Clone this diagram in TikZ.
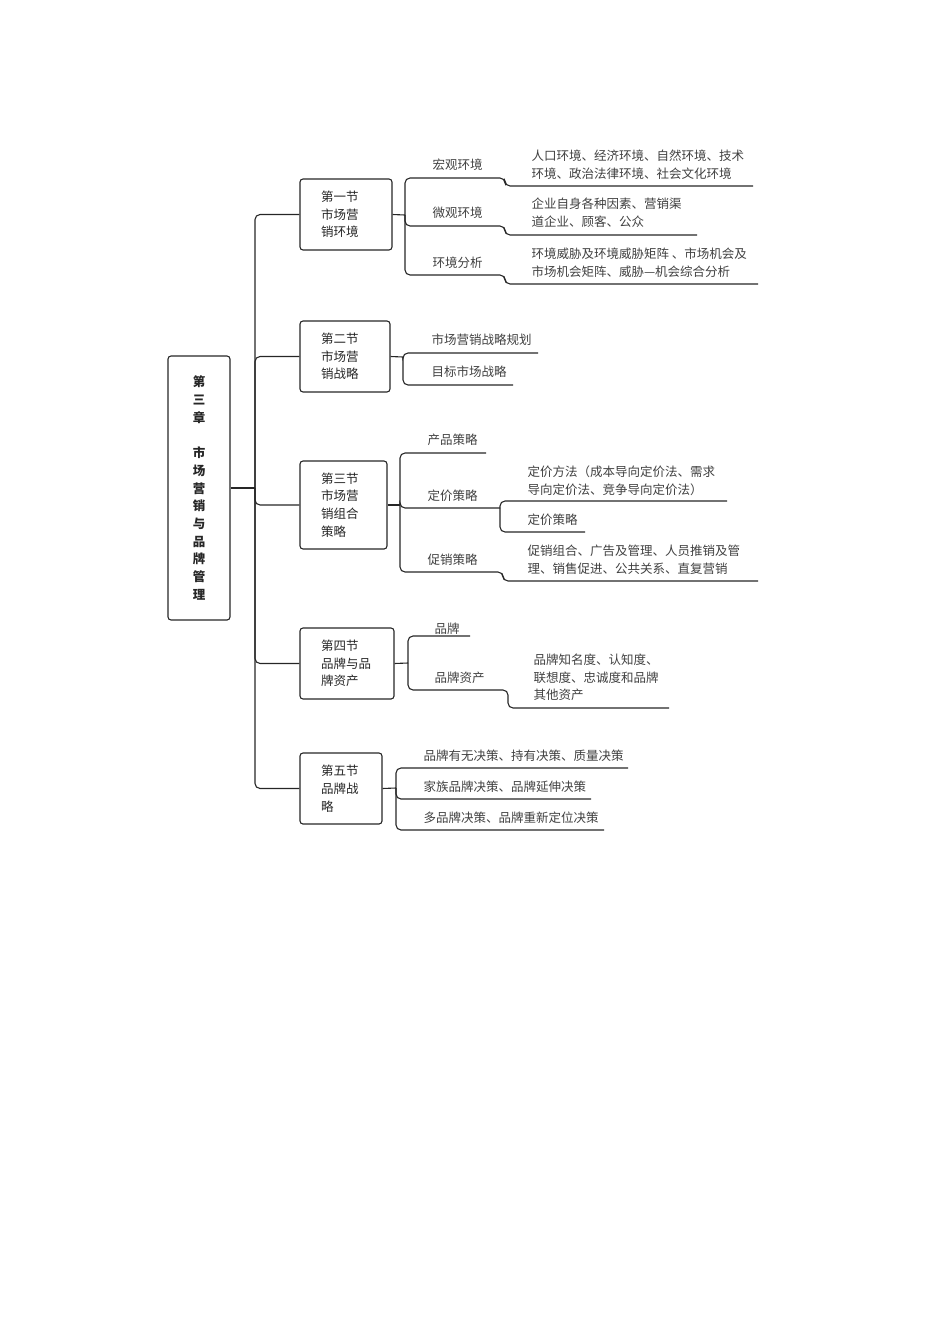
\documentclass[tikz,border=0pt]{standalone}
\usepackage{fontspec}
\setmainfont{Noto Sans CJK SC}
\usetikzlibrary{positioning}

\begin{document}
\begin{tikzpicture}[x=1pt, y=-1pt, line width=1.1pt, color=black!85,
    sec/.style={draw, rounded corners=3pt, align=left, inner xsep=0pt, font=\fontsize{12.5}{17.7}\selectfont},
    lbl/.style={anchor=west, inner sep=0pt, align=left, text=black!75, font=\fontsize{12.5}{17.7}\selectfont},
    wire/.style={rounded corners=5pt}]
    \useasboundingbox (0,0) rectangle (950,1344);
    % Root
    \node[draw, rounded corners=3pt, minimum width=62pt, minimum height=264pt, align=center,
      font=\bfseries\fontsize{12.5}{17.7}\selectfont] (Root) at (199,488)
      {第\\三\\章\\ \\市\\场\\营\\销\\与\\品\\牌\\管\\理};
    % Sections
    \node[sec, minimum width=92pt, minimum height=71pt, text width=50pt] (Sec1) at (346,214.5) {第一节\\市场营\\销环境};
    \node[sec, minimum width=90pt, minimum height=71pt, text width=48pt] (Sec2) at (345,356.5) {第二节\\市场营\\销战略};
    \node[sec, minimum width=87pt, minimum height=88pt, text width=45pt] (Sec3) at (343.5,505) {第三节\\市场营\\销组合\\策略};
    \node[sec, minimum width=94pt, minimum height=71pt, text width=52pt] (Sec4) at (347,663.5) {第四节\\品牌与品\\牌资产};
    \node[sec, minimum width=82pt, minimum height=71pt, text width=40pt] (Sec5) at (341,788.5) {第五节\\品牌战\\略};
    % Trunk
    \draw (Root.east) -- (255,488);
    \foreach \s in {Sec1,Sec2,Sec3,Sec4,Sec5}
      \draw[wire] (255,488) |- (\s.west);

    % Section 1
    \node[lbl] (Hong) at (432,165) {宏观环境};
    \node[lbl] (Wei) at (432,213) {微观环境};
    \node[lbl] (Fx) at (432,263) {环境分析};
    \node[lbl] (HongL) at (531,164.5) {人口环境、经济环境、自然环境、技术\\环境、政治法律环境、社会文化环境};
    \node[lbl] (WeiL) at (531,212.5) {企业自身各种因素、营销渠\\道企业、顾客、公众};
    \node[lbl] (FxL) at (531,263) {环境威胁及环境威胁矩阵 、市场机会及\\市场机会矩阵、威胁—机会综合分析};
    \draw (Sec1.east) -- (405,215);
    \draw[wire] (405,215) |- (505,178) |- (753,186);
    \draw[wire] (405,215) |- (505,226) |- (697,235);
    \draw[wire] (405,215) |- (505,275) |- (758,284);

    % Section 2
    \node[lbl] (Gh) at (431,340) {市场营销战略规划};
    \node[lbl] (Mb) at (431,372) {目标市场战略};
    \draw (Sec2.east) -- (403,357);
    \draw[wire] (403,357) |- (538,353);
    \draw[wire] (403,357) |- (513,385);

    % Section 3
    \node[lbl] (Cp) at (427,440) {产品策略};
    \node[lbl] (Dj) at (427,496) {定价策略};
    \node[lbl] (Cx) at (427,560) {促销策略};
    \node[lbl] (DjA) at (527,480.5) {定价方法（成本导向定价法、需求\\导向定价法、竞争导向定价法）};
    \node[lbl] (DjB) at (527,520) {定价策略};
    \node[lbl] (CxL) at (527,560) {促销组合、广告及管理、人员推销及管\\理、销售促进、公共关系、直复营销};
    \draw (Sec3.east) -- (400,505);
    \draw[wire] (400,505) |- (486,453);
    \draw[wire] (400,505) |- (500,508);
    \draw[wire] (500,508) |- (727,501);
    \draw[wire] (500,508) |- (585,532);
    \draw[wire] (400,505) |- (503,572) |- (758,581);

    % Section 4
    \node[lbl] (Pp) at (434,629) {品牌};
    \node[lbl] (Zc) at (434,678) {品牌资产};
    \node[lbl] (ZcL) at (533,677.5) {品牌知名度、认知度、\\联想度、忠诚度和品牌\\其他资产};
    \draw (Sec4.east) -- (408,663);
    \draw[wire] (408,663) |- (470,636);
    \draw[wire] (408,663) |- (508,690) |- (669,708);

    % Section 5
    \node[lbl] (Jc1) at (423,756) {品牌有无决策、持有决策、质量决策};
    \node[lbl] (Jc2) at (423,787) {家族品牌决策、品牌延伸决策};
    \node[lbl] (Jc3) at (423,818) {多品牌决策、品牌重新定位决策};
    \draw (Sec5.east) -- (396,788);
    \draw[wire] (396,788) |- (628,768);
    \draw[wire] (396,788) |- (591,799);
    \draw[wire] (396,788) |- (604,830);
\end{tikzpicture}
\end{document}
